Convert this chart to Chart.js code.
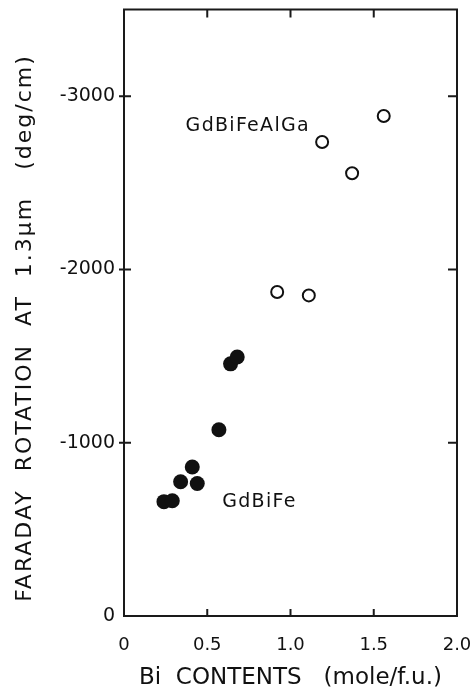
<!DOCTYPE html>
<html>
<head>
<meta charset="utf-8">
<script src="https://cdn.jsdelivr.net/npm/chart.js@4.4.0/dist/chart.umd.min.js"></script>
<style>
  html, body { margin: 0; padding: 0; background: #fff; }
  #wrap { width: 473px; height: 696px; }
</style>
</head>
<body>
<div id="wrap"><canvas id="faraday"></canvas></div>
<script>
// Bi substituted garnets, Faraday rotation vs Bi content
var gdBiFeX = [0.24, 0.29, 0.34, 0.41, 0.44, 0.57, 0.64, 0.68];
var gdBiFeY = [-660, -665, -775, -860, -765, -1075, -1455, -1495];

var gdBiFeAlGaX = [0.92, 1.11, 1.19, 1.37, 1.56];
var gdBiFeAlGaY = [-1870, -1850, -2735, -2555, -2885];

var xTicks = [0, 0.5, 1.0, 1.5, 2.0];
var yTicks = [0, -1000, -2000, -3000];

var seriesNames = ["GdBiFe", "GdBiFeAlGa"];
var yTitle = "FARADAY  ROTATION  AT  1.3μm   (deg/cm)";
var xTitle = "Bi  CONTENTS   (mole/f.u.)";

var FONT = "'DejaVu Sans', sans-serif";
var INK = "#111";

function $each(arr, fn) { for (var i = 0; i < arr.length; i++) fn(i, arr[i]); }
function toPoints(xs, ys) {
  var pts = [];
  $each(xs, function(i, x) { pts.push({x: x, y: ys[i]}); });
  return pts;
}

// frame, inward ticks, y title and the two series names
var framePlugin = {
  id: "frame",
  afterDraw: function(chart) {
    var ctx = chart.ctx, a = chart.chartArea;
    var xs = chart.scales.x, ys = chart.scales.y;
    ctx.save();
    ctx.strokeStyle = "#1a1a1a";
    ctx.lineWidth = 2;
    ctx.strokeRect(a.left, a.top, a.right - a.left, a.bottom - a.top);
    ctx.beginPath();
    $each(xTicks, function(i, v) {
      if (v === xs.min || v === xs.max) return;
      var px = xs.getPixelForValue(v);
      ctx.moveTo(px, a.bottom); ctx.lineTo(px, a.bottom - 7);
      ctx.moveTo(px, a.top); ctx.lineTo(px, a.top + 8);
    });
    $each(yTicks, function(i, v) {
      if (v === ys.max) return;
      var py = ys.getPixelForValue(v);
      ctx.moveTo(a.left - 5, py); ctx.lineTo(a.left + 7, py);
      ctx.moveTo(a.right, py); ctx.lineTo(a.right - 9, py);
    });
    ctx.stroke();

    ctx.fillStyle = INK;
    ctx.textBaseline = "middle";

    // rotated axis title, letter spaced
    ctx.save();
    ctx.letterSpacing = "2px";
    ctx.font = "22px " + FONT;
    ctx.textAlign = "center";
    ctx.translate(25, 328);
    ctx.rotate(-Math.PI / 2);
    ctx.fillText(yTitle, 0, 0);
    ctx.restore();

    // series names next to their points
    ctx.letterSpacing = "1.3px";
    ctx.font = "19px " + FONT;
    ctx.textAlign = "left";
    ctx.fillText(seriesNames[0], xs.getPixelForValue(0.59), ys.getPixelForValue(-655));
    ctx.fillText(seriesNames[1], xs.getPixelForValue(0.37), ys.getPixelForValue(-2830));
    ctx.restore();
  }
};

new Chart(document.getElementById("faraday"), {
  type: "scatter",
  data: {
    datasets: [
      {
        label: seriesNames[0],
        data: toPoints(gdBiFeX, gdBiFeY),
        pointStyle: "circle",
        pointRadius: 7.5,
        backgroundColor: INK,
        borderColor: INK,
        borderWidth: 0
      },
      {
        label: seriesNames[1],
        data: toPoints(gdBiFeAlGaX, gdBiFeAlGaY),
        pointStyle: "circle",
        pointRadius: 6,
        backgroundColor: "#fff",
        borderColor: INK,
        borderWidth: 2
      }
    ]
  },
  options: {
    responsive: true,
    maintainAspectRatio: false,
    animation: false,
    events: [],
    layout: { padding: { top: 9.5, right: 16, left: 0, bottom: 0 } },
    plugins: { legend: { display: false }, tooltip: { enabled: false } },
    scales: {
      x: {
        type: "linear",
        min: 0,
        max: 2,
        grid: { display: false, drawTicks: false },
        border: { display: false },
        afterBuildTicks: function(scale) {
          scale.ticks = xTicks.map(function(v) { return {value: v}; });
        },
        afterFit: function(scale) {
          scale.height = 80;
          scale.paddingLeft = 0;
          scale.paddingRight = 0;
        },
        ticks: {
          padding: 19,
          color: INK,
          font: { family: FONT, size: 18 },
          callback: function(v) { return v === 0 ? "0" : v.toFixed(1); }
        },
        title: {
          display: true,
          text: xTitle,
          color: INK,
          font: { family: FONT, size: 23 },
          padding: { top: 0, bottom: 4 }
        }
      },
      y: {
        type: "linear",
        min: -3500,
        max: 0,
        reverse: true,
        grid: { display: false, drawTicks: false },
        border: { display: false },
        afterBuildTicks: function(scale) {
          scale.ticks = yTicks.map(function(v) { return {value: v}; });
        },
        afterFit: function(scale) {
          scale.width = 124;
          scale.paddingTop = 0;
          scale.paddingBottom = 0;
        },
        ticks: {
          padding: 9,
          color: INK,
          font: { family: FONT, size: 19 },
          callback: function(v) { return String(v); }
        },
        title: { display: false }
      }
    }
  },
  plugins: [framePlugin]
});
</script>
</body>
</html>
